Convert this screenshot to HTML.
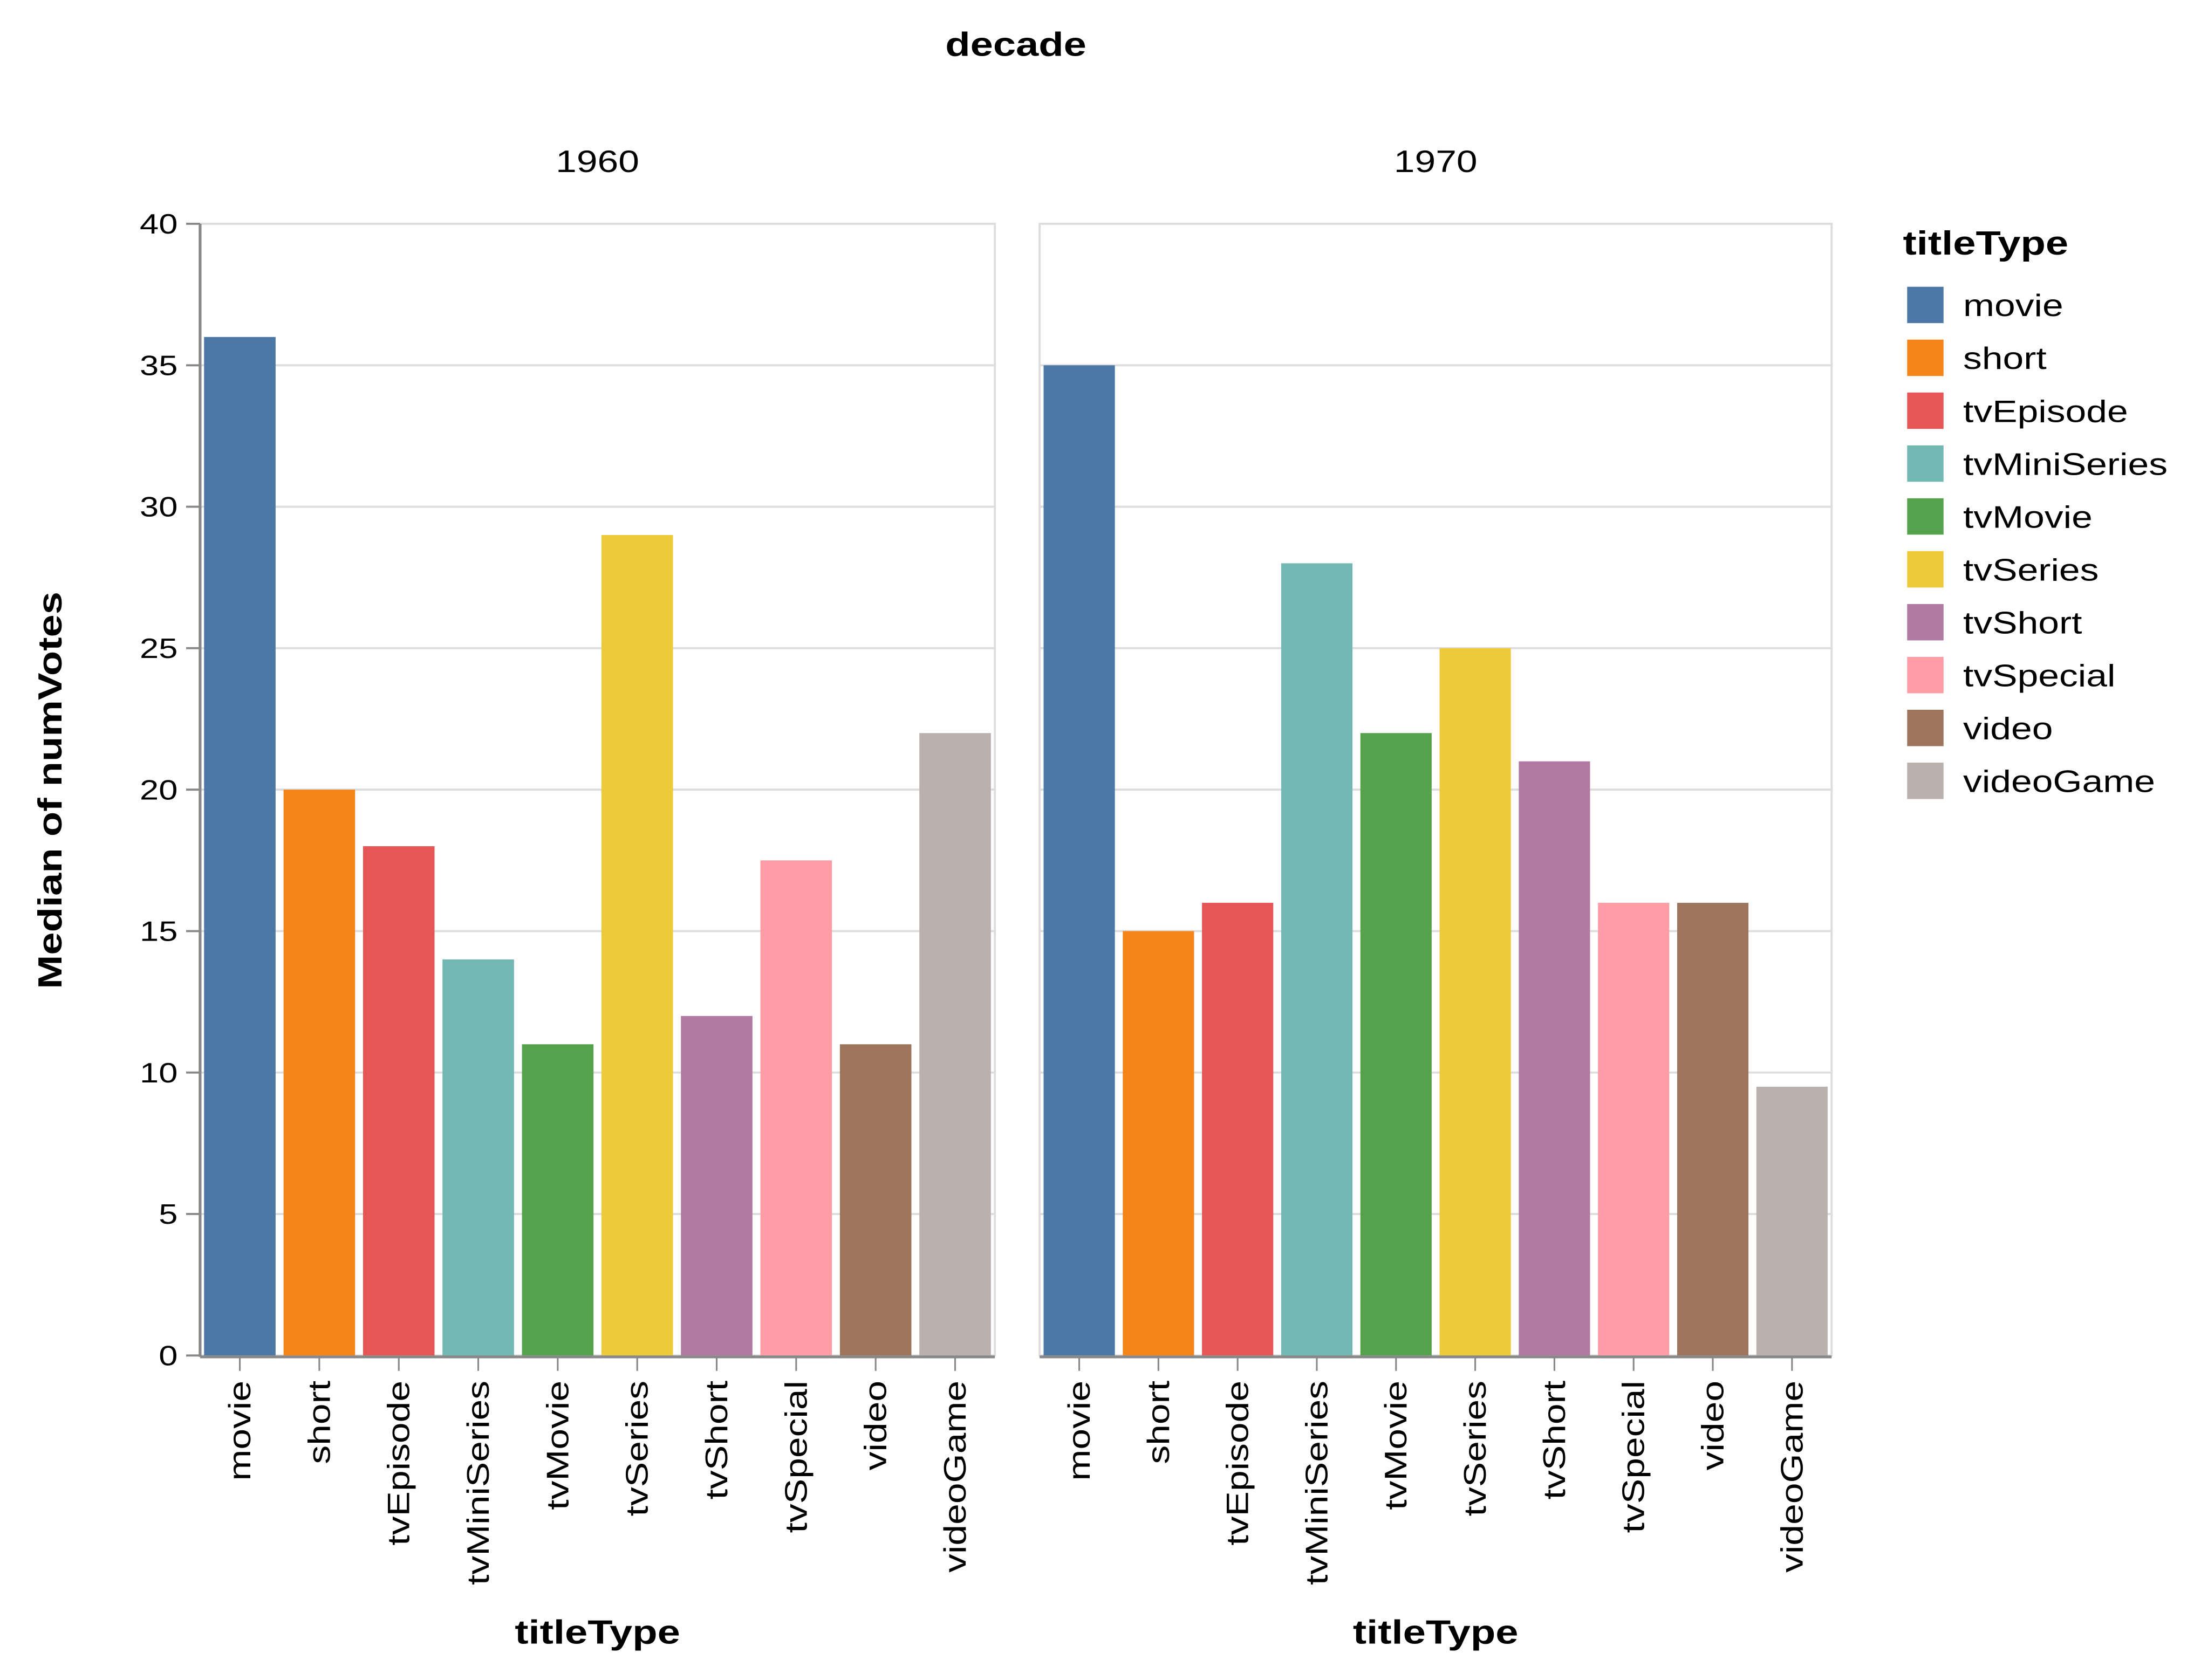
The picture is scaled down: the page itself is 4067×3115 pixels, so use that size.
<!DOCTYPE html>
<html><head><meta charset="utf-8"><style>
html,body{margin:0;padding:0;background:#fff;}
svg{display:block;font-family:"Liberation Sans",Arial,sans-serif;}
</style></head><body>
<svg id="chart" width="4067" height="3115" viewBox="0 0 1568 1201" preserveAspectRatio="none" xmlns="http://www.w3.org/2000/svg"></svg>
<script>
const categories = ["movie","short","tvEpisode","tvMiniSeries","tvMovie","tvSeries","tvShort","tvSpecial","video","videoGame"];
const decades = ["1960","1970"];
const values1960 = [36,20,18,14,11,29,12,17.5,11,22];
const values1970 = [35,15,16,28,22,25,21,16,16,9.5];
const yTicks = [0,5,10,15,20,25,30,35,40];
const colors = ["#4c78a8","#f58518","#e45756","#72b7b2","#54a24b","#eeca3b","#b279a2","#ff9da6","#9d755d","#bab0ac"];

const svg = document.getElementById('chart');
const NS = "http://www.w3.org/2000/svg";
const SX = 1.22;
function mk(tag, attrs, parent){ const e=document.createElementNS(NS,tag); for(const k in attrs) e.setAttribute(k,attrs[k]); (parent||svg).appendChild(e); return e; }
function txt(x,y,rot,str,attrs,parent){
  const a=Object.assign({x:0,y:0,transform:`translate(${x},${y}) rotate(${rot}) scale(${SX},1)`,fill:'#000'},attrs);
  const e=mk('text',a,parent); e.textContent=str; return e;
}
const yTop=160, yBot=969, yMax=40;
function y(v){ return yBot - v/yMax*(yBot-yTop); }
const panels=[{x0:143,x1:711,vals:values1960},{x0:743,x1:1309,vals:values1970}];

let t = txt(726,40,0,'decade',{'text-anchor':'middle','font-size':24,'font-weight':'bold'});



panels.forEach((p,pi)=>{
  const g=mk('g',{});
  
  
  const w=p.x1-p.x0, step=w/categories.length, bw=step*0.9, off=step*0.05;
  function bx(i){ return p.x0+off+i*step; }
  const bd=mk('rect',{x:p.x0,y:yTop,width:w,height:yBot-yTop,fill:'none',stroke:'#ddd','stroke-width':1.5},g);
  
  
  yTicks.forEach(v=>{
    const gl=mk('line',{x1:p.x0,x2:p.x1,y1:y(v),y2:y(v),stroke:'#ddd','stroke-width':1.5},g);
    
    
  });
  p.vals.forEach((v,i)=>{
    const r=mk('rect',{x:bx(i),y:y(v),width:bw,height:yBot-y(v),fill:colors[i]},g);
    
    
    const cx=bx(i)+bw/2;
    const tk=mk('line',{x1:cx,x2:cx,y1:yBot+1,y2:yBot+11,stroke:'#888','stroke-width':1.2},g);
    
    
    const lb=txt(cx+7.5,yBot+18,-90,categories[i],{'text-anchor':'end','font-size':22},g);
    
    
  });
  const dom=mk('line',{x1:p.x0,x2:p.x1,y1:yBot+1,y2:yBot+1,stroke:'#888','stroke-width':2},g);
  
  
  const hd=txt((p.x0+p.x1)/2,123,0,decades[pi],{'text-anchor':'middle','font-size':22},g);
  
  
  const xt=txt((p.x0+p.x1)/2,1175,0,'titleType',{'text-anchor':'middle','font-size':24,'font-weight':'bold'},g);
  
  
});

const ya=mk('line',{x1:143,x2:143,y1:yTop,y2:yBot+1,stroke:'#888','stroke-width':2});


yTicks.forEach(v=>{
  const tk=mk('line',{x1:133,x2:143,y1:y(v),y2:y(v),stroke:'#888','stroke-width':1.5});
  
  
  const lb=txt(127,y(v)+7,0,String(v),{'text-anchor':'end','font-size':20});
  
  
});
const yt=txt(44,565,-90,'Median of numVotes',{'text-anchor':'middle','font-size':24,'font-weight':'bold'});



const lg=mk('g',{});


const lt=txt(1360,182,0,'titleType',{'font-size':24,'font-weight':'bold'},lg);


categories.forEach((c,i)=>{
  const yy=205+i*37.8;
  const e=mk('g',{},lg);
  
  
  mk('rect',{x:1363,y:yy,width:26,height:26,fill:colors[i]},e);
  txt(1403,yy+21,0,c,{'font-size':22},e);
});
</script>
</body></html>
